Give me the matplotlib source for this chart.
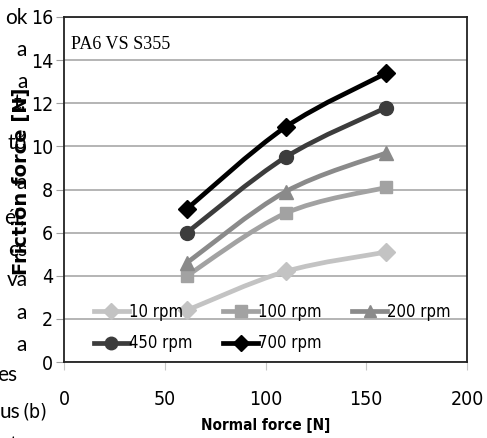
import matplotlib
matplotlib.use("Agg")
import matplotlib.pyplot as plt
from matplotlib.path import Path
from matplotlib.patches import PathPatch
from matplotlib.lines import Line2D

# data
normal_force = [61, 110, 160]
rpm_10 = [2.4, 4.2, 5.1]
rpm_100 = [4.0, 6.9, 8.1]
rpm_200 = [4.6, 7.9, 9.7]
rpm_450 = [6.0, 9.5, 11.8]
rpm_700 = [7.1, 10.9, 13.4]

series = [
    ("10 rpm", rpm_10, "#c3c3c3", "D", 9),
    ("100 rpm", rpm_100, "#a2a2a2", "s", 9),
    ("200 rpm", rpm_200, "#8a8a8a", "^", 10),
    ("450 rpm", rpm_450, "#3c3c3c", "o", 10),
    ("700 rpm", rpm_700, "#000000", "D", 9),
]

# scraps of the page text on the left of the figure (text, right edge px, y px)
side_text = ["ok", "a", "a", "t,", "tő", "a", "él,", "cs", "va", "a", "a", "es", "us", "t"]
side_x = [28, 27, 28, 26, 27, 27, 25, 27, 28, 27, 27, 17, 20, 17]
side_y = [18, 50, 82, 103, 143, 183, 217, 250, 280, 313, 345, 375, 412, 445]

narrow = dict(family="DejaVu Sans", stretch="condensed")


def smooth_path(xs, ys):
    # excel-style smoothed line: cubic bezier through the points
    pts = list(zip(xs, ys))
    n = len(pts)
    verts = [pts[0]]
    codes = [Path.MOVETO]
    for i in range(n - 1):
        p0 = pts[max(i - 1, 0)]
        p1 = pts[i]
        p2 = pts[i + 1]
        p3 = pts[min(i + 2, n - 1)]
        c1 = (p1[0] + (p2[0] - p0[0]) / 6, p1[1] + (p2[1] - p0[1]) / 6)
        c2 = (p2[0] - (p3[0] - p1[0]) / 6, p2[1] - (p3[1] - p1[1]) / 6)
        verts += [c1, c2, p2]
        codes += [Path.CURVE4] * 3
    return Path(verts, codes)


fig = plt.figure(figsize=(4.87, 4.38), dpi=100)
ax = fig.add_axes([64 / 487, 1 - 362 / 438, 403 / 487, 345 / 438])

handles = {}
for name, vals, col, mk, ms in series:
    ax.add_patch(PathPatch(smooth_path(normal_force, vals), fill=False, ec=col,
                           lw=3.4, capstyle="round", joinstyle="round", zorder=3))
    ax.plot(normal_force, vals, ls="none", marker=mk, ms=ms, color=col,
            markeredgecolor=col, zorder=4)
    handles[name] = Line2D([], [], color=col, lw=3.4, marker=mk, ms=ms * 0.9,
                           markeredgecolor=col)

ax.set_xlim(0, 200)
ax.set_ylim(0, 16)
ax.set_xticks([0, 50, 100, 150, 200])
ax.set_yticks(range(0, 17, 2))
ax.yaxis.grid(True, color="#a8a8a8", lw=1.2)
ax.set_axisbelow(True)
for s in ax.spines.values():
    s.set_color("#222222")
    s.set_linewidth(1.3)

ax.tick_params(axis="y", length=6, color="#a0a0a0", pad=2)
ax.tick_params(axis="x", length=6, color="#c8c8c8", pad=14)
for lab in ax.get_xticklabels() + ax.get_yticklabels():
    lab.set_family(narrow["family"])
    lab.set_stretch(narrow["stretch"])
    lab.set_fontsize(14)

ax.set_xlabel("Normal force [N]", fontweight="bold", fontsize=11, **narrow)
ax.xaxis.set_label_coords(0.5, -0.161)
ax.set_ylabel("Friction force [N]", family="DejaVu Sans", fontweight="bold", fontsize=14)
ax.yaxis.set_label_coords(-0.082, 0.525)

ax.text(0.018, 0.945, "PA6 VS S355", transform=ax.transAxes, family="Liberation Serif",
        fontsize=13, va="top", ha="left")

order = ["10 rpm", "450 rpm", "100 rpm", "700 rpm", "200 rpm"]
leg = ax.legend([handles[k] for k in order], order, ncol=3, loc="lower left",
                bbox_to_anchor=(0.045, -0.006), frameon=False, handlelength=2.1,
                handletextpad=0.0, columnspacing=1.85, labelspacing=0.8,
                borderaxespad=0.3, prop=dict(size=12, **narrow))

for t, x, y in zip(side_text, side_x, side_y):
    fig.text(x / 487, 1 - y / 438, t, ha="right", va="center", family="Lato", fontsize=15)
fig.text(22 / 487, 1 - 412 / 438, "(b)", ha="left", va="center", fontsize=14, **narrow)

fig.savefig("out.png", dpi=100)
